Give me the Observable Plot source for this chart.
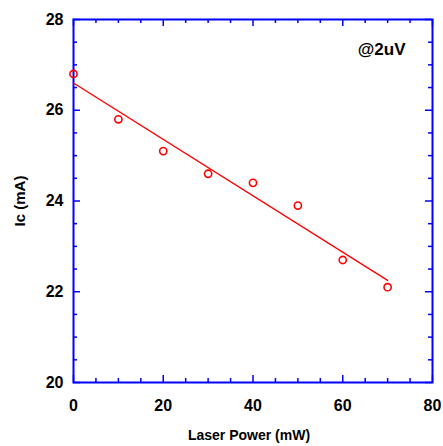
<!DOCTYPE html>
<html>
<head>
<meta charset="utf-8">
<script src="https://cdn.jsdelivr.net/npm/d3@7"></script>
<script src="https://cdn.jsdelivr.net/npm/@observablehq/plot@0.6"></script>
<style>
  html, body { margin: 0; padding: 0; background: #fff; }
  #chart svg { display: block; }
</style>
</head>
<body>
<div id="chart"></div>
<script>
// Data
const power = [0, 10, 20, 30, 40, 50, 60, 70];          // Laser Power (mW)
const current = [26.8, 25.8, 25.1, 24.6, 24.4, 23.9, 22.7, 22.1]; // Ic (mA)
const xMajor = [0, 20, 40, 60, 80];
const xMinor = [5, 10, 15, 25, 30, 35, 45, 50, 55, 65, 70, 75];
const yMajor = [20, 22, 24, 26, 28];
const yMinor = [20.5, 21, 21.5, 22.5, 23, 23.5, 24.5, 25, 25.5, 26.5, 27, 27.5];
const annotation = ["@2uV"];
const xLabel = ["Laser Power (mW)"];
const yLabel = ["Ic (mA)"];

const data = power.map((p, i) => ({power: p, current: current[i]}));

const W = 443, H = 446;
const mt = 19, mb = 64, ml = 73, mr = 11;
const ph = H - mt - mb, pw = W - ml - mr;
const blue = "#0000ff";
const font = "Liberation Sans, Arial, sans-serif";
const majLen = 7, minLen = 4;

const chart = Plot.plot({
  width: W, height: H,
  marginTop: mt, marginBottom: mb, marginLeft: ml, marginRight: mr,
  style: {background: "#fff", fontFamily: font},
  x: {domain: [0, 80]},
  y: {domain: [20, 28]},
  marks: [
    // inward ticks: bottom/top x, left/right y
    Plot.tickX(xMajor, {x: d => d, stroke: blue, strokeWidth: 1.5, insetTop: ph - majLen}),
    Plot.tickX(xMinor, {x: d => d, stroke: blue, strokeWidth: 1.5, insetTop: ph - minLen}),
    Plot.tickX(xMajor, {x: d => d, stroke: blue, strokeWidth: 1.5, insetBottom: ph - majLen}),
    Plot.tickX(xMinor, {x: d => d, stroke: blue, strokeWidth: 1.5, insetBottom: ph - minLen}),
    Plot.tickY(yMajor, {y: d => d, stroke: blue, strokeWidth: 1.5, insetRight: pw - majLen}),
    Plot.tickY(yMinor, {y: d => d, stroke: blue, strokeWidth: 1.5, insetRight: pw - minLen}),
    Plot.tickY(yMajor, {y: d => d, stroke: blue, strokeWidth: 1.5, insetLeft: pw - majLen}),
    Plot.tickY(yMinor, {y: d => d, stroke: blue, strokeWidth: 1.5, insetLeft: pw - minLen}),
    Plot.frame({stroke: blue, strokeWidth: 2}),
    Plot.axisX({ticks: xMajor, tickSize: 0, tickPadding: 17, label: null,
      fontSize: 16, fontWeight: "bold", fill: "#000"}),
    Plot.axisY({ticks: yMajor, tickSize: 0, tickPadding: 10, label: null,
      fontSize: 16, fontWeight: "bold", fill: "#000"}),
    Plot.linearRegressionY(data, {x: "power", y: "current", stroke: "#ff0000", strokeWidth: 1.4, ci: 0}),
    Plot.dot(data, {x: "power", y: "current", r: 3.6, stroke: "#ff0000", strokeWidth: 1.6, fill: "none"}),
    Plot.text(annotation, {frameAnchor: "top-right", textAnchor: "end", lineAnchor: "top",
      dx: -27, dy: 23, fontSize: 17, fontWeight: "bold", fill: "#000"}),
    Plot.text(xLabel, {frameAnchor: "bottom", textAnchor: "middle", lineAnchor: "middle", dx: -4, dy: 53,
      fontSize: 14, fontWeight: "bold", fill: "#000"}),
    Plot.text(yLabel, {frameAnchor: "left", textAnchor: "middle", rotate: -90, lineAnchor: "middle", dx: -53,
      fontSize: 15, fontWeight: "bold", fill: "#000"})
  ]
});
document.getElementById("chart").append(chart);
</script>
</body>
</html>
